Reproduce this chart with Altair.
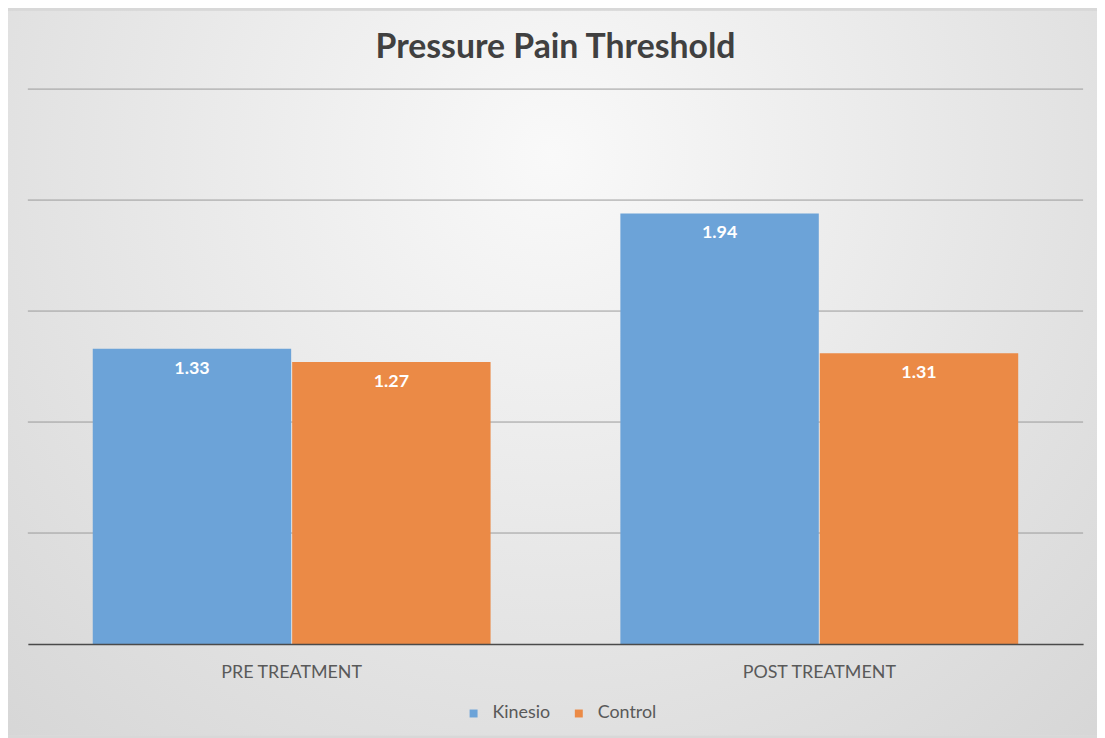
import altair as alt
import pandas as pd

categories = ["PRE TREATMENT", "POST TREATMENT"]
series = ["Kinesio", "Control"]
kinesio = [1.33, 1.94]
control = [1.27, 1.31]
colors = ["#6CA3D8", "#EB8A46"]
y_ticks = [0.5, 1.0, 1.5, 2.0, 2.5]

rows = []
for i, c in enumerate(categories):
    rows.append({"cat": c, "series": "Kinesio", "value": kinesio[i]})
    rows.append({"cat": c, "series": "Control", "value": control[i]})
df = pd.DataFrame(rows)
grid_df = pd.DataFrame({"value": y_ticks})

W, H = 1063, 559
PL, PT, PR, PB = 20, 79, 14, 92

bg = alt.Chart(pd.DataFrame({"a": [0]})).mark_rect(
    fill=alt.RadialGradient(
        gradient="radial",
        x1=0.5, y1=0.3, r1=0.0,
        x2=0.5, y2=0.3, r2=0.85,
        stops=[alt.GradientStop(offset=0, color="#f9f9f9"),
               alt.GradientStop(offset=1, color="#d1d1d1")],
    )
).encode(
    x=alt.value(-PL), x2=alt.value(W + PR),
    y=alt.value(-PT), y2=alt.value(H + PB),
)

yscale = alt.Scale(domain=[0, 2.5], nice=False)

grid = alt.Chart(grid_df).mark_rule(color="#9a9a9a", strokeWidth=1).encode(
    y=alt.Y("value:Q", scale=yscale, title=None,
            axis=alt.Axis(labels=False, ticks=False, domain=False, grid=False)),
)

xenc = alt.X("cat:N", sort=categories, title=None,
             scale=alt.Scale(paddingInner=0.246, paddingOuter=0.123),
             axis=alt.Axis(labelAngle=0, ticks=False, domainColor="#4a4a4a",
                           domainWidth=1.5, labelFont="Lato", labelFontSize=18,
                           labelColor="#595959", labelPadding=20, grid=False,
                           zindex=1))
yenc = alt.Y("value:Q", title=None, scale=yscale)
xoff = alt.XOffset("series:N", sort=series, scale=alt.Scale(paddingInner=0.005))

bars = alt.Chart(df).mark_bar().encode(
    x=xenc, y=yenc, xOffset=xoff,
    color=alt.Color("series:N", sort=series,
                    scale=alt.Scale(domain=series, range=colors),
                    legend=alt.Legend(title=None, orient="none", legendX=440, legendY=620,
                                      direction="horizontal", symbolType="square",
                                      symbolSize=64, labelFont="Lato", labelFontSize=18,
                                      labelColor="#595959", columnPadding=19,
                                      labelOffset=10, symbolStrokeWidth=0)),
)

labels = alt.Chart(df).mark_text(
    color="white", font="Lato", fontWeight="bold", fontSize=18, dy=20, baseline="middle"
).encode(
    x=alt.X("cat:N", sort=categories), y=alt.Y("value:Q"),
    xOffset=alt.XOffset("series:N", sort=series),
    text=alt.Text("value:Q", format=".2f"),
)

chart = alt.layer(bg, grid, bars, labels).properties(
    width=W, height=H,
    autosize="none",
    padding={"left": PL, "top": PT, "right": PR, "bottom": PB},
    title=alt.Title("Pressure Pain Threshold", font="Lato", fontSize=34,
                    fontWeight="bold", color="#404040", offset=0, dy=55,
                    anchor="middle", frame="group", zindex=1),
).configure_view(stroke=None).configure(background="#d8d8d8")

chart.save("out.html", embed_options={"renderer": "svg", "actions": False})
